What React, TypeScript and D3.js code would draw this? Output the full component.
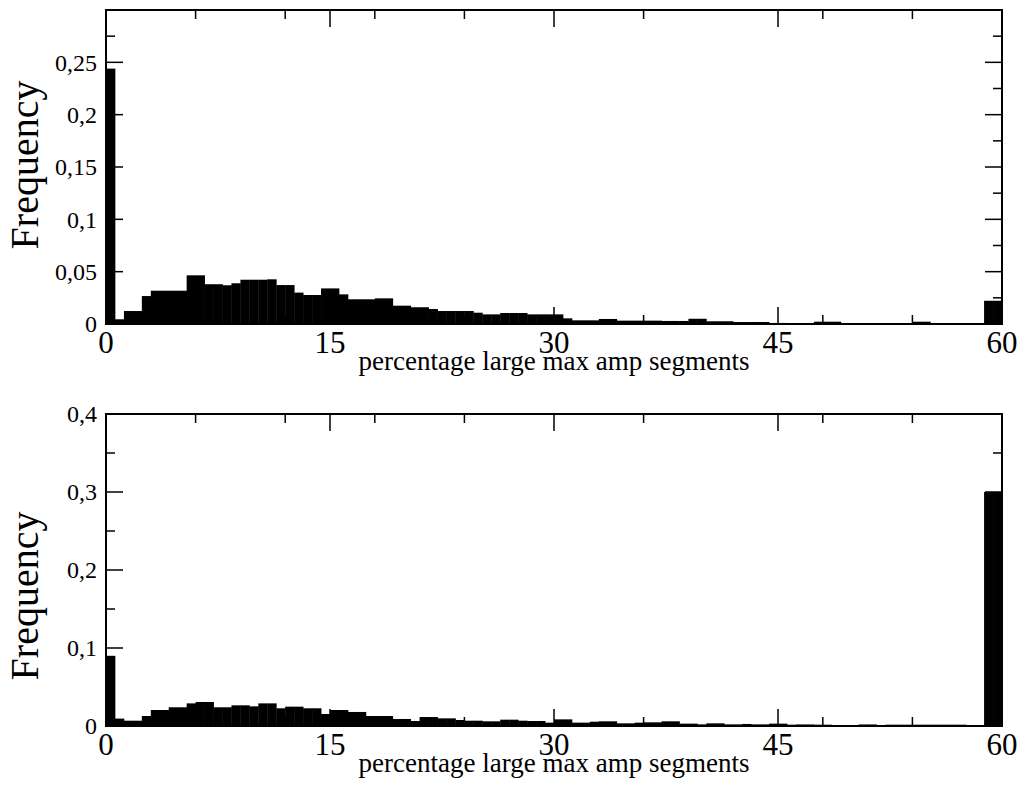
import React from 'react';
import * as d3 from 'd3';

// histogram bin heights, bins of 0.6 % from 0 to 60
const binWidth = 0.6;
const freqTop = [
  0.244, 0.0045, 0.0124, 0.0124, 0.0267, 0.0318, 0.0318, 0.0318, 0.0318, 0.0465,
  0.0465, 0.038, 0.038, 0.037, 0.0389, 0.0423, 0.0423, 0.0423, 0.0427, 0.0372,
  0.0372, 0.030, 0.0277, 0.0277, 0.034, 0.034, 0.0283, 0.0236, 0.0236, 0.0236,
  0.0245, 0.0245, 0.0175, 0.0175, 0.016, 0.016, 0.0143, 0.0124, 0.0124, 0.0124,
  0.0124, 0.0108, 0.0092, 0.0092, 0.0105, 0.0105, 0.0105, 0.0092, 0.0092, 0.0092,
  0.0092, 0.0054, 0.0035, 0.0035, 0.0035, 0.0048, 0.0048, 0.0032, 0.0032, 0.0032,
  0.0032, 0.0032, 0.0029, 0.0029, 0.0029, 0.005, 0.005, 0.0026, 0.0026, 0.0026,
  0.0019, 0.0019, 0.0019, 0.0019, 0.001, 0.001, 0.0005, 0.0005, 0.0005, 0.0022,
  0.0022, 0.0022, 0.0005, 0.0005, 0.0005, 0.0005, 0.0005, 0.0005, 0.0005, 0.0005,
  0.0022, 0.0022, 0.0003, 0.0003, 0.0003, 0.0003, 0.0003, 0.0003, 0.0222, 0.0222,
];
const freqBottom = [
  0.09, 0.0095, 0.0068, 0.0068, 0.0128, 0.0205, 0.0205, 0.024, 0.024, 0.029,
  0.0308, 0.0308, 0.024, 0.024, 0.0265, 0.0265, 0.0252, 0.029, 0.029, 0.0227,
  0.0248, 0.0248, 0.0227, 0.0227, 0.0154, 0.0205, 0.0205, 0.018, 0.018, 0.0128,
  0.0128, 0.0128, 0.009, 0.009, 0.0064, 0.0115, 0.0115, 0.0098, 0.0098, 0.0077,
  0.0068, 0.0068, 0.006, 0.006, 0.0081, 0.0081, 0.0068, 0.0064, 0.0064, 0.0043,
  0.0085, 0.0085, 0.0043, 0.0043, 0.0055, 0.006, 0.006, 0.0034, 0.0034, 0.0043,
  0.0047, 0.0047, 0.006, 0.006, 0.003, 0.003, 0.0021, 0.0034, 0.0034, 0.0021,
  0.0021, 0.0026, 0.0021, 0.0021, 0.003, 0.003, 0.0017, 0.002, 0.002, 0.0017,
  0.0017, 0.001, 0.0013, 0.0013, 0.002, 0.002, 0.001, 0.0017, 0.0017, 0.0017,
  0.0017, 0.0017, 0.0017, 0.0017, 0.0017, 0.0017, 0.001, 0.001, 0.30, 0.30,
];

const xMajor = [0, 15, 30, 45, 60];
const xMinor = [6, 12, 18, 24, 36, 48, 54];
const yMajorTop = [0, 0.05, 0.1, 0.15, 0.2, 0.25];
const yMinorTop = [0.025, 0.075, 0.125, 0.175, 0.225, 0.275];
const yMajorBottom = [0, 0.1, 0.2, 0.3, 0.4];
const yMinorBottom = [0.05, 0.15, 0.25, 0.35];

const xLabel = 'percentage large max amp segments';
const yLabel = 'Frequency';

const fmt = (v: number) => String(+v.toFixed(3)).replace('.', ',');

const FONT = "'Liberation Serif', 'DejaVu Serif', serif";

function Panel({ data, top, bottom, yMax, yMajor, yMinor, yLabelY }: any) {
  const left = 106;
  const right = 1002;
  const x = d3.scaleLinear().domain([0, 60]).range([left, right]);
  const y = d3.scaleLinear().domain([0, yMax]).range([bottom, top]);
  const majorLen = 17;
  const minorLen = 9;
  return (
    <g fontFamily={FONT}>
      {data.map((v: number, i: number) => (
        <rect
          key={i}
          x={x(i * binWidth)}
          y={y(v)}
          width={x((i + 1) * binWidth) - x(i * binWidth) + 0.4}
          height={y(0) - y(v)}
          fill="#000"
        />
      ))}
      {/* x ticks bottom & top */}
      {xMajor.map((t) => (
        <g key={'xM' + t}>
          <line x1={x(t)} x2={x(t)} y1={bottom} y2={bottom - majorLen} stroke="#000" strokeWidth={1.5} />
          <line x1={x(t)} x2={x(t)} y1={top} y2={top + majorLen} stroke="#000" strokeWidth={1.5} />
          <text x={x(t)} y={bottom + 29} textAnchor="middle" fontSize={31}>
            {t}
          </text>
        </g>
      ))}
      {xMinor.map((t) => (
        <g key={'xm' + t}>
          <line x1={x(t)} x2={x(t)} y1={bottom} y2={bottom - minorLen} stroke="#000" strokeWidth={1.5} />
          <line x1={x(t)} x2={x(t)} y1={top} y2={top + minorLen} stroke="#000" strokeWidth={1.5} />
        </g>
      ))}
      {/* y ticks left & right */}
      {yMajor.map((t: number) => (
        <g key={'yM' + t}>
          <line x1={left} x2={left + majorLen} y1={y(t)} y2={y(t)} stroke="#000" strokeWidth={1.5} />
          <line x1={right} x2={right - majorLen} y1={y(t)} y2={y(t)} stroke="#000" strokeWidth={1.5} />
          <text x={97} y={y(t)} dy="0.35em" textAnchor="end" fontSize={24}>
            {fmt(t)}
          </text>
        </g>
      ))}
      {yMinor.map((t: number) => (
        <g key={'ym' + t}>
          <line x1={left} x2={left + minorLen} y1={y(t)} y2={y(t)} stroke="#000" strokeWidth={1.5} />
          <line x1={right} x2={right - minorLen} y1={y(t)} y2={y(t)} stroke="#000" strokeWidth={1.5} />
        </g>
      ))}
      <rect x={left} y={top} width={right - left} height={bottom - top} fill="none" stroke="#000" strokeWidth={2} />
      <text x={(left + right) / 2} y={bottom + 46} textAnchor="middle" fontSize={27}>
        {xLabel}
      </text>
      <text
        transform={`translate(38,${yLabelY}) rotate(-90)`}
        textAnchor="middle"
        fontSize={40}
      >
        {yLabel}
      </text>
    </g>
  );
}

export default function App() {
  return (
    <svg
      width={1021}
      height={797}
      style={{ position: 'absolute', left: 0, top: 0, background: '#fff' }}
    >
      <Panel data={freqTop} top={10} bottom={324} yMax={0.3} yMajor={yMajorTop} yMinor={yMinorTop} yLabelY={165} />
      <Panel data={freqBottom} top={414} bottom={726} yMax={0.4} yMajor={yMajorBottom} yMinor={yMinorBottom} yLabelY={596} />
    </svg>
  );
}
